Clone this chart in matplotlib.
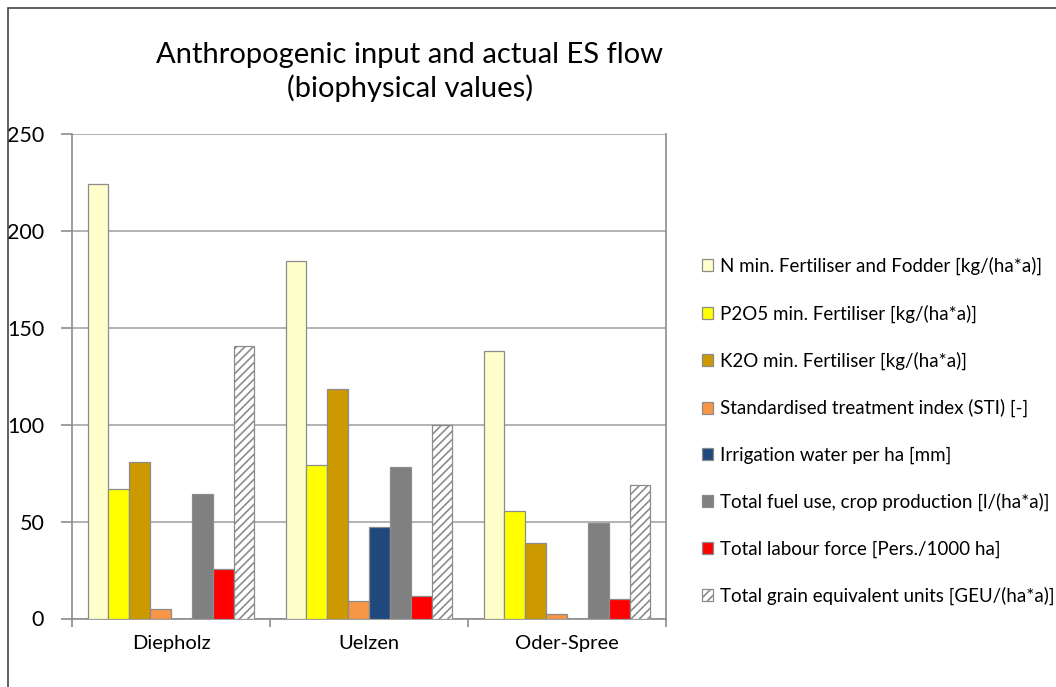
import matplotlib
matplotlib.use("Agg")
import matplotlib.pyplot as plt
import numpy as np
from matplotlib.patches import Rectangle

plt.rcParams["font.family"] = ["Lato", "DejaVu Sans"]
plt.rcParams["hatch.color"] = "#909090"
plt.rcParams["hatch.linewidth"] = 1.2

regions = ["Diepholz", "Uelzen", "Oder-Spree"]
series = [
    "N min. Fertiliser and Fodder [kg/(ha*a)]",
    "P2O5 min. Fertiliser [kg/(ha*a)]",
    "K2O min. Fertiliser [kg/(ha*a)]",
    "Standardised treatment index (STI) [-]",
    "Irrigation water per ha [mm]",
    "Total fuel use, crop production [l/(ha*a)]",
    "Total labour force [Pers./1000 ha]",
    "Total grain equivalent units [GEU/(ha*a)]",
]
n_fert = [224, 184.5, 138]
p2o5 = [67, 79, 55.5]
k2o = [81, 118.5, 39]
sti = [5, 9, 2.5]
irrigation = [0, 47, 0]
fuel = [64, 78, 49.5]
labour = [25.7, 11.5, 10]
geu = [140.5, 99.7, 69]
values = [n_fert, p2o5, k2o, sti, irrigation, fuel, labour, geu]

colors = ["#FFFFCC", "#FFFF00", "#CC9900", "#F79646", "#1F497D", "#808080", "#FF0000", "white"]
hatches = [None] * 7 + ["////"]

fig = plt.figure(figsize=(10.56, 6.87), dpi=100)
ax = fig.add_axes([72 / 1056, 1 - 618.5 / 687, (666 - 72) / 1056, (618.5 - 134) / 687])

# outer chart frame (top and left edges visible)
fig.patches.append(Rectangle((7.5 / 1056, -0.1), 1.2, 1 - 7.5 / 687 + 0.1, transform=fig.transFigure,
                             fill=False, edgecolor="#444444", linewidth=1.2, zorder=0))

x = np.arange(len(regions))
width = 1 / (len(series) + 1.5)
for i, (name, vals) in enumerate(zip(series, values)):
    ax.bar(x + (i - 3.5) * width, vals, width, color=colors[i], edgecolor="#8c8c8c",
           linewidth=0.9, hatch=hatches[i], label=name, zorder=3)

ax.set_xlim(-0.5, 2.5)
ax.set_ylim(0, 250)
ax.set_yticks(np.arange(0, 251, 50))
ax.yaxis.grid(True, color="#a6a6a6", linewidth=1.2, zorder=0)
ax.set_xticks([-0.5, 0.5, 1.5, 2.5])
ax.set_xticklabels([])
ax.set_xticks(x, minor=True)
ax.set_xticklabels(regions, minor=True, fontsize=14.5)
ax.tick_params(axis="x", which="minor", length=0, pad=12)
ax.tick_params(axis="x", which="major", length=6, color="#8c8c8c", width=1.2)
ax.tick_params(axis="y", length=8, color="#8c8c8c", width=1.2, labelsize=15.5, pad=12)
for side in ["left", "bottom", "right"]:
    ax.spines[side].set_color("#8c8c8c")
    ax.spines[side].set_linewidth(1.2)
ax.spines["top"].set_visible(False)

fig.text(410 / 1056, 1 - 72 / 687, "Anthropogenic input and actual ES flow\n(biophysical values)",
         ha="center", va="center", fontsize=21, linespacing=1.3)

fig.legend(loc="center left", bbox_to_anchor=(694 / 1056, 1 - 431 / 687), frameon=False,
           fontsize=13.5, handlelength=0.62, handleheight=0.62, handletextpad=0.35,
           labelspacing=1.55, borderaxespad=0)

fig.savefig("out.png", dpi=100, facecolor="white")
